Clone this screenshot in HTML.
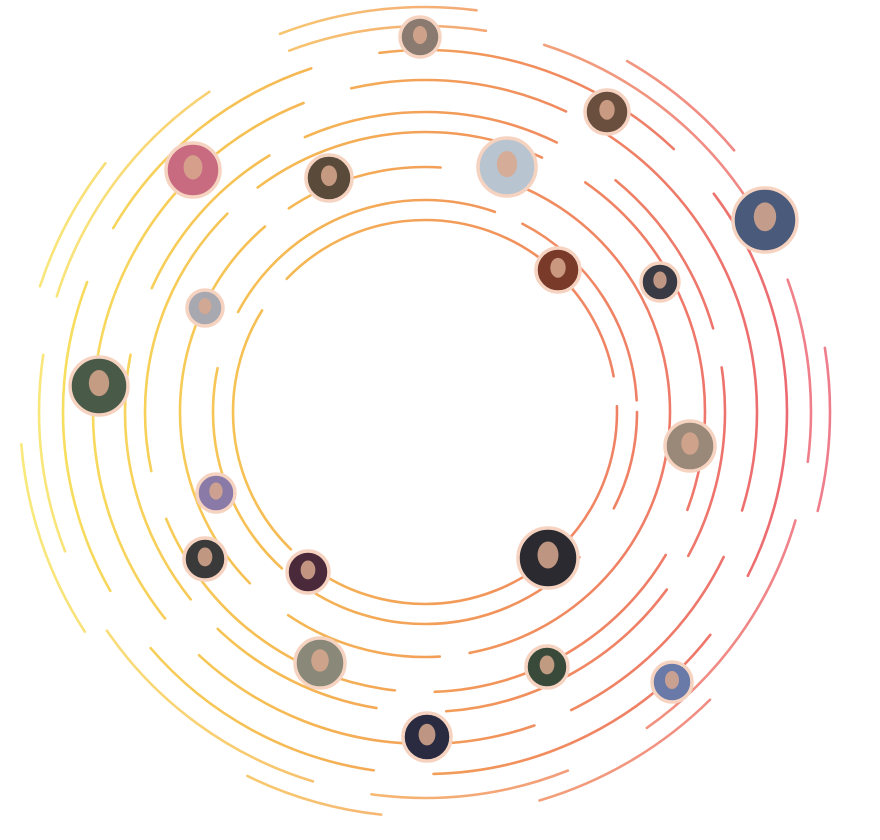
<!DOCTYPE html>
<html><head><meta charset="utf-8"><style>
html,body{margin:0;padding:0;background:#fff;width:880px;height:840px;overflow:hidden;font-family:"Liberation Sans",sans-serif}
</style></head><body>
<svg width="880" height="840" viewBox="0 0 880 840" xmlns="http://www.w3.org/2000/svg">
<defs>
<linearGradient id="g" x1="0" y1="0" x2="880" y2="0" gradientUnits="userSpaceOnUse">
<stop offset="0" stop-color="#f7e651"/>
<stop offset="0.3" stop-color="#f5b640"/>
<stop offset="0.55" stop-color="#f08a48"/>
<stop offset="1" stop-color="#e84a6a"/>
</linearGradient>
</defs>
<g id="rings" fill="none" stroke="url(#g)" stroke-width="2.6" stroke-linecap="round"></g>
<g id="avatars"></g>
</svg>
<script>
const ringRadii=[192,212,245,280,300,332,362,386,405];
const ringDash=[[420,30,260,40],[220,60,300,30],[400,30,160,50],[300,50,280,40],[180,40,260,70],[360,50,220,40],[260,70,320,60],[200,60,260,90],[140,220,200,160]];
const ringOffset=[0,120,60,200,30,260,90,150,40];
const avX=[420,607,193,329,507,765,558,660,205,99,690,216,205,308,548,320,547,672,427];
const avY=[37,112,170,178,167,220,270,282,308,386,446,493,559,572,558,663,667,682,737];
const avR=[20,22,27,23,29,32,22,19,18,29,25,19,21,21,30,25,21,20,24];
const avColor=['#8a7a70','#6a4e3e','#c86a80','#5a4a3a','#b8c4d0','#4a5a7a','#7a3a2a','#3a3a44','#a8a8b0','#4a5a48','#9a8878','#8a7aa8','#3a3a3a','#4a2a3a','#2a2a30','#8a8878','#3a4a3a','#6a7aa8','#2a2a40'];
const cx=425,cy=412,ns='http://www.w3.org/2000/svg';
const rg=document.getElementById('rings');
ringRadii.forEach((r,i)=>{
 const c=document.createElementNS(ns,'circle');
 
 
 c.setAttribute('cx',cx);c.setAttribute('cy',cy);c.setAttribute('r',r);
 c.setAttribute('stroke-dasharray',ringDash[i].join(' '));
 c.setAttribute('stroke-dashoffset',ringOffset[i]);
 c.setAttribute('opacity',i>=7?0.75:0.9);
 rg.appendChild(c);
});
const ag=document.getElementById('avatars');
avX.forEach((x,i)=>{
 const g=document.createElementNS(ns,'g');
 
 
 const b=document.createElementNS(ns,'circle');
 b.setAttribute('cx',x);b.setAttribute('cy',avY[i]);b.setAttribute('r',avR[i]);
 b.setAttribute('fill',avColor[i]);b.setAttribute('stroke','#f6d3c0');b.setAttribute('stroke-width',3.5);
 g.appendChild(b);
 const f=document.createElementNS(ns,'ellipse');
 f.setAttribute('cx',x);f.setAttribute('cy',avY[i]-avR[i]*0.1);
 f.setAttribute('rx',avR[i]*0.35);f.setAttribute('ry',avR[i]*0.45);
 f.setAttribute('fill','#d8a88e');f.setAttribute('opacity',0.85);
 g.appendChild(f);
 ag.appendChild(g);
});
</script>
</body></html>
